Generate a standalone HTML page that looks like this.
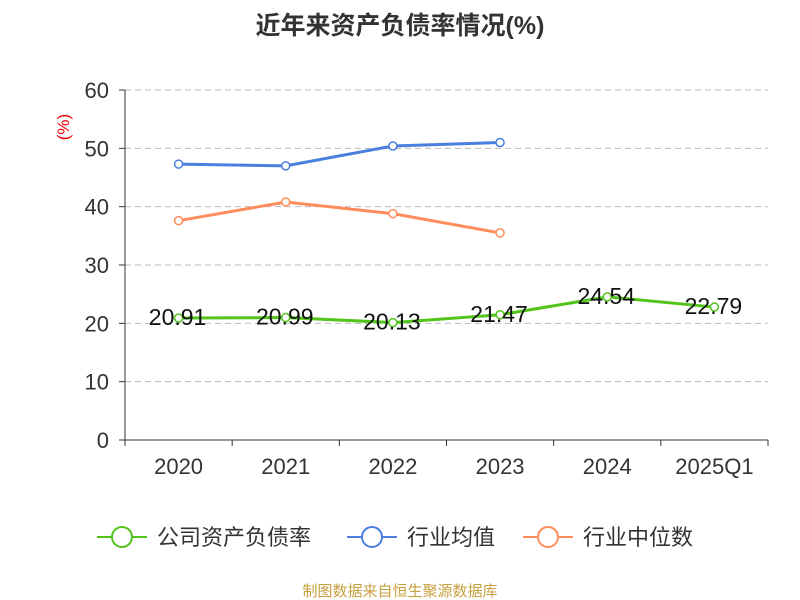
<!DOCTYPE html>
<html><head><meta charset="utf-8"><style>
body{margin:0;background:#fff;font-family:"Liberation Sans","Noto Sans CJK SC",sans-serif;}
</style></head><body>
<svg id="c" width="800" height="600" style="display:block">
<text x="400" y="34" text-anchor="middle" font-size="25" font-weight="bold" fill="#333">近年来资产负债率情况(%)</text>
<text x="69" y="127" font-size="17" fill="#e00" transform="rotate(-90 69 127)" text-anchor="middle">(%)</text>
<g id="grid"></g><g id="axes"></g><g id="series"></g>
<g>
<g><line x1="97" y1="537" x2="147" y2="537" stroke="#52c41a" stroke-width="2"/><circle cx="122" cy="537" r="10" fill="#fff" stroke="#52c41a" stroke-width="2"/><text x="157" y="545" font-size="22" fill="#333">公司资产负债率</text></g>
<g><line x1="347" y1="537" x2="397" y2="537" stroke="#4a7fe0" stroke-width="2"/><circle cx="372" cy="537" r="10" fill="#fff" stroke="#4a7fe0" stroke-width="2"/><text x="407" y="545" font-size="22" fill="#333">行业均值</text></g>
<g><line x1="523" y1="537" x2="573" y2="537" stroke="#ff8c5a" stroke-width="2"/><circle cx="548" cy="537" r="10" fill="#fff" stroke="#ff8c5a" stroke-width="2"/><text x="583" y="545" font-size="22" fill="#333">行业中位数</text></g>
</g>
<text x="400" y="596" text-anchor="middle" font-size="15" fill="#c8a040">制图数据来自恒生聚源数据库</text>
</svg>
<script>
const categories=["2020","2021","2022","2023","2024","2025Q1"];
const companyValues=[20.91,20.99,20.13,21.47,24.54,22.79];
const industryAvg=[47.3,47.0,50.4,51.0];
const industryMedian=[37.6,40.8,38.8,35.5];
const yTicks=[0,10,20,30,40,50,60];
const NS="http://www.w3.org/2000/svg";
const x0=125,x1=768,y0=440,y1=90,yMax=60;
const bw=(x1-x0)/categories.length;
const xs=i=>x0+bw*(i+0.5);
const ys=v=>y0-(v/yMax)*(y0-y1);
function mk(t,a,p){const e=document.createElementNS(NS,t);for(const k in a)e.setAttribute(k,a[k]);p.appendChild(e);return e;}
const grid=document.getElementById('grid'),axes=document.getElementById('axes'),ser=document.getElementById('series');
yTicks.forEach(v=>{
  if(v>0){const g=mk('line',{x1:x0,x2:x1,y1:ys(v),y2:ys(v),stroke:'#bbb','stroke-dasharray':'6,4'},grid);
  
  }
  mk('line',{x1:x0-6,x2:x0,y1:ys(v),y2:ys(v),stroke:'#333'},axes);
  const t=mk('text',{x:x0-16,y:ys(v)+8,'text-anchor':'end','font-size':22,fill:'#333'},axes);t.textContent=v;
  
  
});
mk('line',{x1:x0,x2:x0,y1:y1,y2:y0,stroke:'#333'},axes);
mk('line',{x1:x0,x2:x1,y1:y0,y2:y0,stroke:'#333'},axes);
for(let i=0;i<=categories.length;i++)mk('line',{x1:x0+bw*i,x2:x0+bw*i,y1:y0,y2:y0+6,stroke:'#333'},axes);
categories.forEach((c,i)=>{const t=mk('text',{x:xs(i),y:474,'text-anchor':'middle','font-size':22,fill:'#333'},axes);t.textContent=c;

});
function line(vals,color,name,labels){
  const g=mk('g',{},ser);
  
  
  mk('polyline',{points:vals.map((v,i)=>xs(i)+','+ys(v)).join(' '),fill:'none',stroke:color,'stroke-width':3},g);
  vals.forEach((v,i)=>{const c=mk('circle',{cx:xs(i),cy:ys(v),r:4,fill:'#fff',stroke:color,'stroke-width':1.5},g);
  
  
  if(labels){const t=mk('text',{x:xs(i)-1,y:ys(v)+7,'text-anchor':'middle','font-size':23,fill:'#111'},g);t.textContent=v.toFixed(2);
  
  }});
}
line(industryAvg,'#4a7fe0','industry-avg-line',false);
line(industryMedian,'#ff8c5a','industry-median-line',false);
line(companyValues,'#52c41a','company-line',true);
</script>
</body></html>
